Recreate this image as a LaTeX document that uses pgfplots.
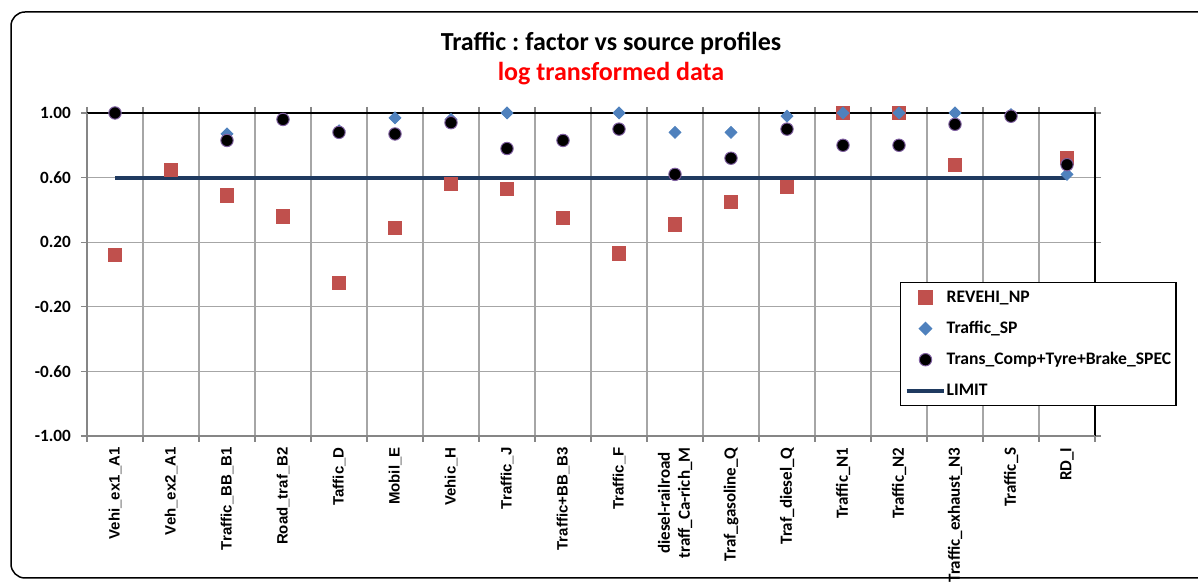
\documentclass[border=0pt]{standalone}
\usepackage{fontspec}
\setmainfont{Carlito}
\newfontfamily\arial{Liberation Sans}
\usepackage{pgfplots}
\usepackage{pgfplotstable}
\pgfplotsset{compat=1.18}
\definecolor{revred}{HTML}{C0504D}
\definecolor{spblue}{HTML}{4F81BD}
\definecolor{limitnavy}{HTML}{1F3A60}
\definecolor{circpurple}{HTML}{7F5FA0}
\definecolor{gridgray}{HTML}{A6A6A6}
\definecolor{axisgray}{HTML}{868686}

% factor correlations, one row per source profile
\pgfplotstableread{
x   np     sp     spec
0   0.12   1.00   1.00
1   0.65   nan    nan
2   0.49   0.87   0.83
3   0.36   0.96   0.96
4   -0.05  0.89   0.88
5   0.29   0.97   0.87
6   0.56   0.96   0.94
7   0.53   1.00   0.78
8   0.35   0.83   0.83
9   0.13   1.00   0.90
10  0.31   0.88   0.62
11  0.45   0.88   0.72
12  0.54   0.98   0.90
13  1.00   1.00   0.80
14  1.00   1.00   0.80
15  0.68   1.00   0.93
16  nan    0.99   0.98
17  0.72   0.62   0.68
}\profiles

\begin{document}
\frenchspacing
\begin{tikzpicture}
\useasboundingbox (0pt,0pt) rectangle (599pt,291pt);
\draw[black, line width=0.75pt, rounded corners=7pt] (5.5pt,2pt) rectangle (620pt,285pt);
\node[font=\bfseries\fontsize{13}{15}\selectfont] at (305.5pt,269.5pt) {Traffic : factor vs source profiles};
\node[font=\bfseries\fontsize{13}{15}\selectfont, text=red] at (305.5pt,254pt) {log transformed data};
\begin{axis}[
    at={(43.5pt,73pt)}, anchor=south west,
    scale only axis, width=504pt, height=161.5pt,
    xmin=-0.5, xmax=17.5, ymin=-1, ymax=1,
    clip=false,
    axis line style={draw=none},
    xtick={0,...,17},
    xticklabels={
      {\arial\fontsize{7.5}{9}\selectfont Vehi\_ex1\_A1},
      {\arial\fontsize{7.5}{9}\selectfont Veh\_ex2\_A1},
      {\arial\fontsize{7.5}{9}\selectfont Traffic\_BB\_B1},
      {\arial\fontsize{7.5}{9}\selectfont Road\_traf\_B2},
      {\arial\fontsize{7.5}{9}\selectfont Taffic\_D},
      {\arial\fontsize{7.5}{9}\selectfont Mobil\_E},
      {\arial\fontsize{7.5}{9}\selectfont Vehic\_H},
      {\arial\fontsize{7.5}{9}\selectfont Traffic\_J},
      {\arial\fontsize{7.5}{9}\selectfont Traffic+BB\_B3},
      {\arial\fontsize{7.5}{9}\selectfont Traffic\_F},
      {diesel-railroad\\traff\_Ca-rich\_M},
      {Traf\_gasoline\_Q},{Traf\_diesel\_Q},{Traffic\_N1},{Traffic\_N2},
      {Traffic\_exhaust\_N3},{Traffic\_S},{RD\_I}},
    x tick label style={rotate=90, anchor=east, align=center,
      font=\bfseries\fontsize{8.5}{10}\selectfont},
    xticklabel shift=2.2pt,
    ytick={-1,-0.6,-0.2,0.2,0.6,1},
    yticklabels={{-1.00},{-0.60},{-0.20},{0.20},{0.60},{1.00}},
    y tick label style={font=\bfseries\fontsize{8.6}{10}\selectfont, xshift=-4.5pt},
    minor xtick={-0.5,0.5,...,17.5},
    minor ytick={-1,-0.6,-0.2,0.2,0.6,1},
    major tick length=0pt, minor tick length=3pt,
    tick align=outside,
    tick style={axisgray, line width=0.6pt},
    xminorgrids=true, ymajorgrids=true,
    grid style={gridgray, line width=0.6pt},
    minor grid style={gridgray, line width=0.6pt},
    legend image code/.code={\draw[mark repeat=2,mark phase=2,#1]
      plot coordinates {(0cm,0cm) (0.33cm,0cm) (0.65cm,0cm)};},
    legend cell align=left,
    legend style={at={(0.8065,0.4768)}, anchor=north west,
      draw=black, line width=0.75pt, inner xsep=2pt, inner ysep=2pt,
      row sep=4.5pt,
      font=\bfseries\fontsize{8.8}{11}\selectfont,
      nodes={inner xsep=0.5pt, inner ysep=1pt, text height=7pt, text depth=2pt}},
]
\draw[black, line width=0.6pt] (axis cs:-0.5,1) -- (axis cs:17.5,1) -- (axis cs:17.5,-1);
\draw[axisgray, line width=0.8pt] (axis cs:-0.5,1) -- (axis cs:-0.5,-1) -- (axis cs:17.5,-1);
\addplot[limitnavy, line width=2pt, forget plot] coordinates {(0,0.6) (17,0.6)};
\addplot[only marks, mark=square*, mark size=3.3pt,
  mark options={draw=revred, fill=revred}] table[x=x, y=np] {\profiles};
\addlegendentry{REVEHI\_NP}
\addplot[only marks, mark=square*, mark size=2.1pt,
  mark options={draw=spblue, fill=spblue, rotate=45}] table[x=x, y=sp] {\profiles};
\addlegendentry{Traffic\_SP}
\addplot[only marks, mark=*, mark size=3.1pt,
  mark options={draw=circpurple, fill=black, line width=0.5pt}] table[x=x, y=spec] {\profiles};
\addlegendentry{Trans\_Comp+Tyre+Brake\_SPEC}
\addlegendimage{limitnavy, line width=2pt}
\addlegendentry{LIMIT}
\end{axis}
\end{tikzpicture}
\end{document}
